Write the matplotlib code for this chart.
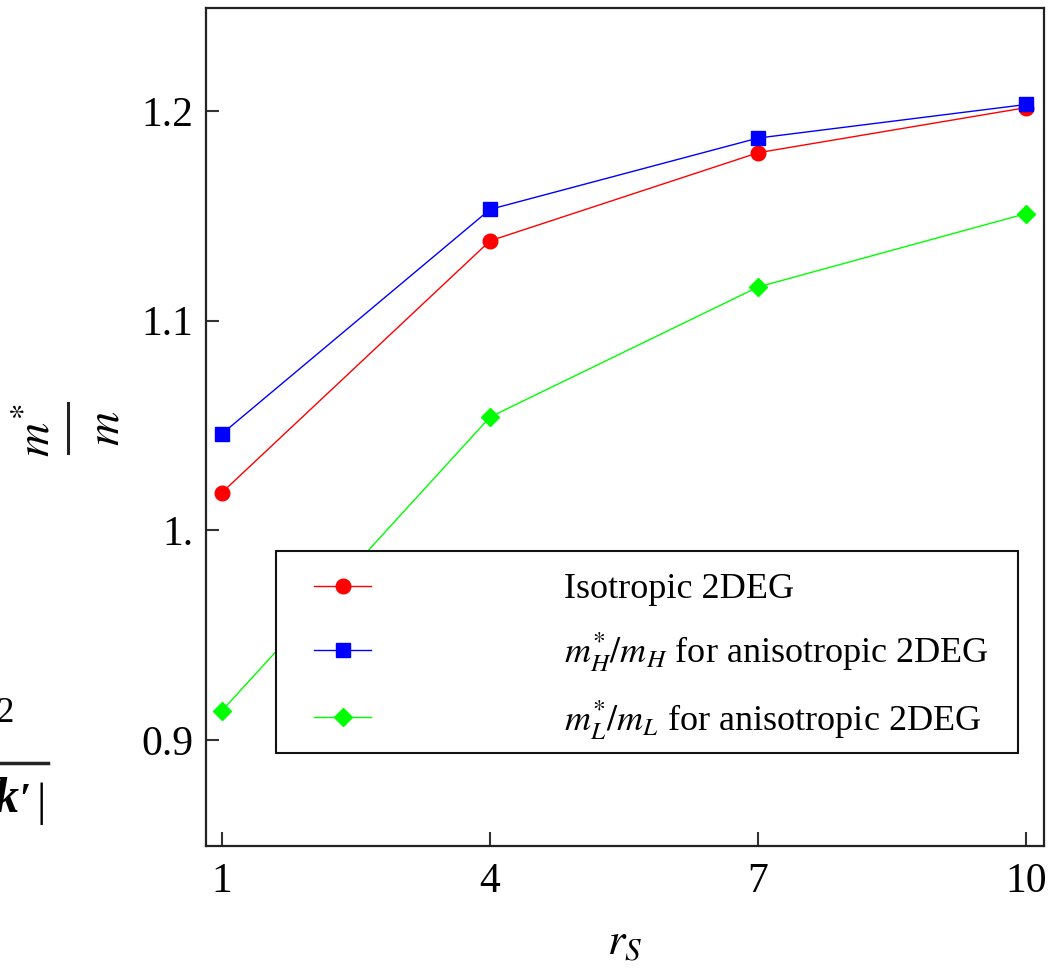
import matplotlib
matplotlib.use("Agg")
import matplotlib.pyplot as plt
from matplotlib.lines import Line2D
from matplotlib.patches import Rectangle
from matplotlib.legend_handler import HandlerLine2D

plt.rcParams['font.family'] = ['Liberation Serif', 'DejaVu Serif']
plt.rcParams['mathtext.fontset'] = 'stix'

# data
rs = [1, 4, 7, 10]
iso = [1.018, 1.138, 1.180, 1.2015]
mH = [1.046, 1.153, 1.187, 1.203]
mL = [0.914, 1.054, 1.116, 1.151]
labels = ['Isotropic 2DEG',
          r'$m_H^{*}/m_H$ for anisotropic 2DEG',
          r'$m_L^{*}/m_L$ for anisotropic 2DEG']
xticks = [1, 4, 7, 10]
yticks = [0.9, 1.0, 1.1, 1.2]
yticklabels = ['0.9', '1.', '1.1', '1.2']
ylabel_num = r'$m^{*}$'
ylabel_den = r'$m$'
xlabel = r'$r_S$'


class ShiftedHandler(HandlerLine2D):
    def __init__(self, shift, **kw):
        super().__init__(**kw)
        self.shift = shift

    def create_artists(self, legend, orig_handle, xdescent, ydescent,
                       width, height, fontsize, trans):
        return super().create_artists(legend, orig_handle, xdescent - self.shift,
                                      ydescent, width, height, fontsize, trans)


fig = plt.figure(figsize=(10.62, 9.75), dpi=100)
ax = fig.add_axes([206/1062, 1-846/975, (1044-206)/1062, (846-8)/975])

l1, = ax.plot(rs, iso, color='#ff0000', lw=1.0, marker='o', ms=10.5, label=labels[0])
l2, = ax.plot(rs, mH, color='#0000ff', lw=1.0, marker='s', ms=9.5, label=labels[1])
l3, = ax.plot(rs, mL, color='#00ff00', lw=1.0, marker='D', ms=9.5, label=labels[2])

ax.set_xlim(0.821, 10.20)
ax.set_ylim(0.8495, 1.249)
ax.set_xticks(xticks)
ax.set_xticklabels([str(v) for v in xticks])
ax.set_yticks(yticks)
ax.set_yticklabels(yticklabels)
ax.tick_params(axis='both', direction='in', labelsize=30, width=1.5, color='#333333')
ax.tick_params(axis='y', length=9, pad=9)
ax.tick_params(axis='x', length=10, pad=12)
for s in ax.spines.values():
    s.set_linewidth(1.6)
    s.set_color('#222222')

ax.set_xlabel(xlabel, fontsize=32, labelpad=16)

# y label: rotated fraction m*/m built from text pieces
fig.text(38/1062, 1-430/975, ylabel_num, fontsize=34, rotation=90,
         ha='center', va='center')
fig.add_artist(Line2D([68/1062, 68/1062], [1-403/975, 1-453/975], color='#222222',
                      lw=2.2, transform=fig.transFigure))
fig.text(107/1062, 1-428/975, ylabel_den, fontsize=34, rotation=90,
         ha='center', va='center')

hm = {h: ShiftedHandler(11.5) for h in (l1, l2, l3)}
leg = ax.legend(loc='upper left', bbox_to_anchor=(0.0835, 0.111, 0.8855, 0.2415),
                mode='expand', fontsize=26, handlelength=1.58, handletextpad=5.77,
                labelspacing=0.66, borderpad=0.62, borderaxespad=0,
                frameon=False, handler_map=hm)
ax.add_patch(Rectangle((276/1062, 1-753/975), (1018-276)/1062, (753-551)/975,
                       transform=fig.transFigure, fill=False, edgecolor='#111111',
                       lw=1.5, zorder=6))
# white backing behind the legend
ax.add_patch(Rectangle((276/1062, 1-753/975), (1018-276)/1062, (753-551)/975,
                       transform=fig.transFigure, facecolor='white', edgecolor='none',
                       zorder=4.5))
leg.set_zorder(7)

# fragments from neighbouring content at the left edge
fig.text(-0.003, 1-722/975, '2', fontsize=25, ha='left', va='baseline')
fig.add_artist(Line2D([0, 48/1062], [1-763/975, 1-763/975], color='#222222', lw=2.5,
                      transform=fig.transFigure))
fig.text(-0.006, 1-812/975, 'k', fontsize=36, fontstyle='italic', fontweight='bold',
         ha='left', va='baseline')
fig.text(19/1062, 1-812/975, '\u2032', fontsize=30, fontweight='bold',
         ha='left', va='baseline')
fig.text(36/1062, 1-815/975, '|', fontsize=34, ha='left', va='baseline')

fig.savefig('out.png', dpi=100)
